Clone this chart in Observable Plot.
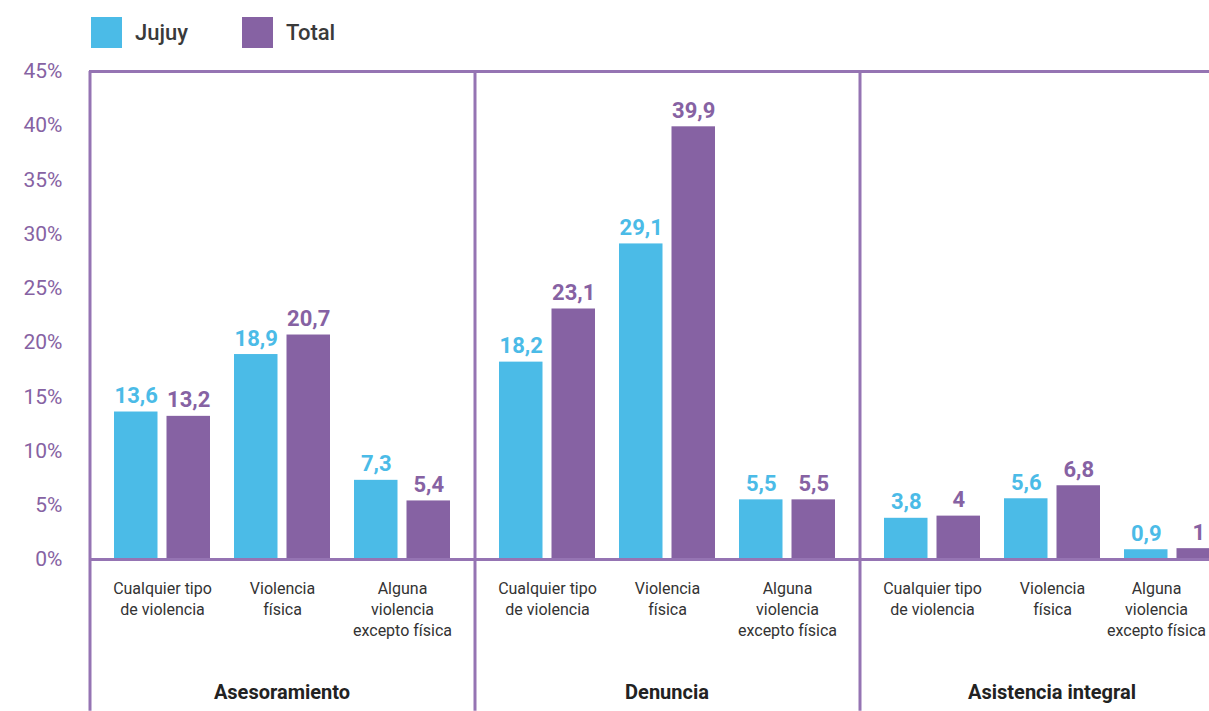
<!DOCTYPE html>
<html>
<head>
<meta charset="utf-8">
<script src="https://cdn.jsdelivr.net/npm/d3@7"></script>
<script src="https://cdn.jsdelivr.net/npm/@observablehq/plot@0.6"></script>
<style>
  html, body { margin: 0; padding: 0; background: #fff; overflow: hidden; }
  #legend { position: relative; height: 58px; width: 1209px; font-family: Roboto, sans-serif; }
  .sw { position: absolute; top: 17px; width: 31px; height: 31px; }
  .lt { position: absolute; top: 17px; line-height: 31px; font-size: 22px; color: #3a3a3a; font-weight: 500; }
  #chart svg { display: block; max-width: none !important; height: 653px !important; }
</style>
</head>
<body>
<div id="legend">
  <div class="sw" style="left:91px;background:#4bbbe7"></div>
  <div class="lt" style="left:135px">Jujuy</div>
  <div class="sw" style="left:242px;background:#8662a3"></div>
  <div class="lt" style="left:286px">Total</div>
</div>
<div id="chart"></div>
<script>
const facets = ["Asesoramiento", "Denuncia", "Asistencia integral"];
const groups = ["Cualquier tipo de violencia", "Violencia física", "Alguna violencia excepto física"];
const groupLabels = ["Cualquier tipo\nde violencia", "Violencia\nfísica", "Alguna\nviolencia\nexcepto física"];
const series = ["Jujuy", "Total"];
const jujuy = [13.6, 18.9, 7.3, 18.2, 29.1, 5.5, 3.8, 5.6, 0.9];
const total = [13.2, 20.7, 5.4, 23.1, 39.9, 5.5, 4, 6.8, 1];
const yTicks = [0, 5, 10, 15, 20, 25, 30, 35, 40, 45];

const BLUE = "#4bbbe7", PURPLE = "#8662a3", LINE = "#9574b3";

const makeRows = (vals, s) => vals.map((v, i) => ({
  facet: facets[Math.floor(i / 3)], group: groups[i % 3], series: s, value: v
}));
const jRows = makeRows(jujuy, series[0]);
const tRows = makeRows(total, series[1]);
const fmt = d => String(d.value).replace(".", ",");

const catRows = facets.flatMap(f => groups.map((g, j) => ({ facet: f, group: g, label: groupLabels[j] })));
const lastCat = catRows[catRows.length - 1];
const otherCats = catRows.slice(0, -1);

const facetW = 385, padIn = 0.2;
const step = 120;
const padOut = ((facetW / step) - 3 + padIn) / 2;
const bw = step * (1 - padIn);
const edgeDx = -(padOut * step + bw / 2);
const barW = 43.5;
const barInset = bw - barW;
const labelDx = bw / 2 - barW / 2;

const catStyle = { fx: "facet", x: "group", text: "label", frameAnchor: "bottom", lineAnchor: "top", dy: 20, fontSize: 16, fill: "#333", lineHeight: 1.3 };

const chart = Plot.plot({
  width: 89 + 3 * facetW,
  height: 653,
  marginLeft: 89,
  marginRight: 0,
  marginTop: 13,
  marginBottom: 152,
  style: { fontFamily: "Roboto, sans-serif", overflow: "visible" },
  fx: { domain: facets, padding: 0, label: null },
  x: { domain: groups, paddingInner: padIn, paddingOuter: padOut, label: null, axis: null },
  y: { domain: [0, 45], label: null },
  marks: [
    Plot.barY(jRows, { fx: "facet", x: "group", y: "value", fill: BLUE, insetRight: barInset }),
    Plot.barY(tRows, { fx: "facet", x: "group", y: "value", fill: PURPLE, insetLeft: barInset }),
    Plot.text(jRows, { fx: "facet", x: "group", y: "value", text: fmt, dx: -labelDx, dy: -9, lineAnchor: "bottom", fill: BLUE, fontWeight: 700, fontSize: 22 }),
    Plot.text(tRows, { fx: "facet", x: "group", y: "value", text: fmt, dx: labelDx, dy: -9, lineAnchor: "bottom", fill: PURPLE, fontWeight: 700, fontSize: 22 }),
    Plot.ruleY([0], { stroke: LINE, strokeWidth: 3 }),
    Plot.ruleY([45], { stroke: LINE, strokeWidth: 3 }),
    Plot.ruleX(facets.map(f => ({ facet: f, group: groups[0] })), { fx: "facet", x: "group", y1: 45, y2: -14, dx: edgeDx, stroke: LINE, strokeWidth: 3 }),
    Plot.axisY({ ticks: yTicks, tickFormat: d => d + "%", tickSize: 0, tickPadding: 27, fontSize: 21, fill: PURPLE, label: null }),
    Plot.text(otherCats, catStyle),
    Plot.text([lastCat], { ...catStyle, dx: -16 }),
    Plot.axisFx({ anchor: "bottom", tickSize: 0, tickPadding: 125, fontSize: 20, fontWeight: 700, fill: "#222", label: null })
  ]
});
document.getElementById("chart").appendChild(chart);
</script>
</body>
</html>
